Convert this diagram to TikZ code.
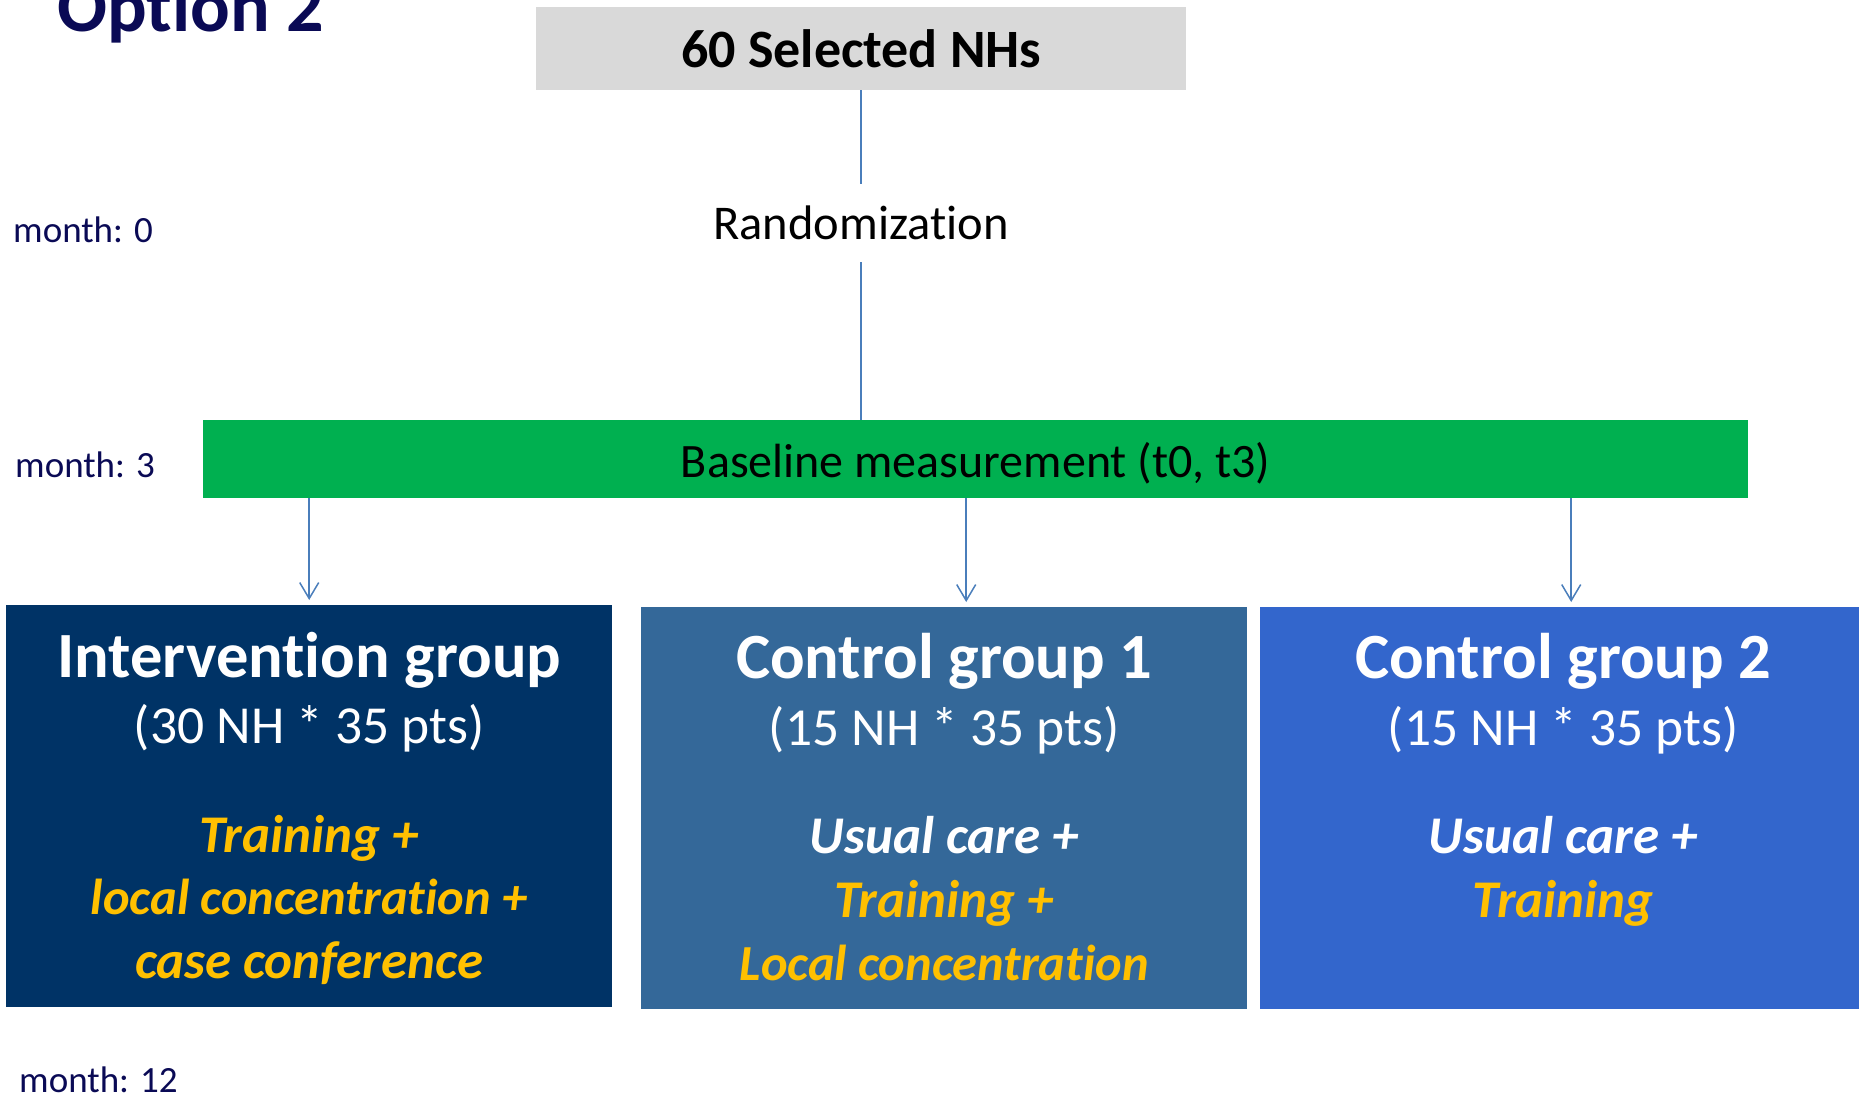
\documentclass[tikz,border=0pt]{standalone}
\usepackage{fontspec}
\setmainfont{Carlito}[Ligatures={NoCommon}]
\usetikzlibrary{arrows.meta, positioning, calc}

\definecolor{navytxt}{HTML}{0A0A55}
\definecolor{selgrey}{HTML}{D9D9D9}
\definecolor{basegreen}{HTML}{00B050}
\definecolor{igblue}{HTML}{003366}
\definecolor{cgoneblue}{HTML}{346899}
\definecolor{cgtwoblue}{HTML}{3366CC}
\definecolor{armgold}{HTML}{FFC000}
\definecolor{linkblue}{HTML}{4A7EBB}

\begin{document}
\begin{tikzpicture}[
        x=1pt, y=-1pt,
        month/.style={anchor=base west, inner sep=0pt, text=navytxt, font=\fontsize{37}{42}\selectfont},
        grp/.style={anchor=north west, inner sep=0pt, minimum width=606pt, minimum height=402pt},
        headtxt/.style={anchor=base, inner sep=0pt, text=white, font=\bfseries\fontsize{64.5}{70}\selectfont},
        sizetxt/.style={anchor=base, inner sep=0pt, text=white, font=\fontsize{53.5}{60}\selectfont},
        armtxt/.style={anchor=base, inner sep=0pt, text=armgold, font=\bfseries\itshape\fontsize{53}{60}\selectfont},
        armlong/.style={armtxt, font=\bfseries\itshape\fontsize{50.5}{60}\selectfont},
        link/.style={draw=linkblue, line width=1.5pt},
        flow/.style={link, -{Straight Barb[length=16pt, width=19pt, line width=1.5pt]}, shorten >=5pt}
    ]
        \useasboundingbox (0,0) rectangle (1859,1097);

        % title and time axis
        \node[anchor=base west, inner sep=0pt, text=navytxt, font=\bfseries\fontsize{74}{80}\selectfont] (opt) at (57,32) {Option 2};
        \node[month] (m0) at (13,242) {month: 0};
        \node[month] (m3) at (15,477) {month: 3};
        \node[month] (m12) at (19,1092) {month: 12};

        % selection, randomization, baseline
        \node[fill=selgrey, anchor=north west, inner sep=0pt, minimum width=650pt, minimum height=83pt,
              text height=40pt, text depth=3pt, font=\bfseries\fontsize{54}{60}\selectfont] (sel) at (536,7) {60 Selected NHs};
        \node[inner sep=0pt, minimum height=78pt, text height=40pt, text depth=8pt,
              font=\fontsize{48.5}{54}\selectfont] (rand) at (861,223) {Randomization};
        \node[fill=basegreen, anchor=north west, inner sep=0pt, minimum width=1545pt, minimum height=78pt,
              text height=38pt, text depth=2pt, font=\fontsize{48}{54}\selectfont] (base) at (203,420) {Baseline measurement (t0, t3)};

        \draw[link] (sel.south -| rand.north) -- (rand.north);
        \draw[link] (rand.south) -- (rand.south |- base.north);

        % study arms
        \node[grp, fill=igblue] (ig) at (6,605) {};
        \node[grp, fill=cgoneblue] (cg1) at (641,607) {};
        \node[grp, fill=cgtwoblue] (cg2) at (1260,607) {};

        \node[headtxt] (igHead) at ([yshift=-72pt]ig.north) {Intervention group};
        \node[sizetxt] (igSize) at ([yshift=-138pt]ig.north) {(30 NH * 35 pts)};
        \node[armtxt] (igArmA) at ([yshift=-247pt]ig.north) {Training +};
        \node[armlong] (igArmB) at ([yshift=-309pt]ig.north) {local concentration +};
        \node[armtxt] (igArmC) at ([yshift=-373pt]ig.north) {case conference};

        \node[headtxt] (cgoneHead) at ([yshift=-71pt]cg1.north) {Control group 1};
        \node[sizetxt] (cgoneSize) at ([yshift=-138pt]cg1.north) {(15 NH * 35 pts)};
        \node[armtxt, text=white] (cgoneArmA) at ([yshift=-246pt]cg1.north) {Usual care +};
        \node[armtxt] (cgoneArmB) at ([yshift=-310pt]cg1.north) {Training +};
        \node[armlong] (cgoneArmC) at ([yshift=-373pt]cg1.north) {Local concentration};

        \node[headtxt] (cgtwoHead) at ([yshift=-71pt]cg2.north) {Control group 2};
        \node[sizetxt] (cgtwoSize) at ([yshift=-138pt]cg2.north) {(15 NH * 35 pts)};
        \node[armtxt, text=white] (cgtwoArmA) at ([yshift=-246pt]cg2.north) {Usual care +};
        \node[armtxt] (cgtwoArmB) at ([yshift=-310pt]cg2.north) {Training};

        \draw[flow] (base.south -| ig.north) -- (ig.north);
        \draw[flow] ([xshift=22pt]cg1.north |- base.south) -- ([xshift=22pt]cg1.north);
        \draw[flow] ([xshift=8pt]cg2.north |- base.south) -- ([xshift=8pt]cg2.north);
    \end{tikzpicture}
\end{document}
